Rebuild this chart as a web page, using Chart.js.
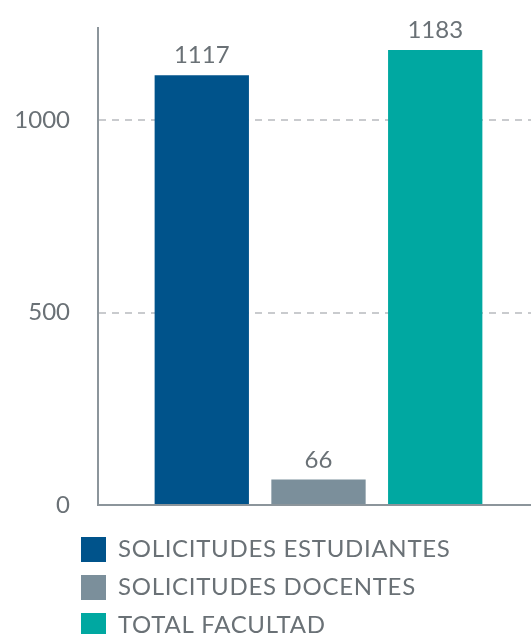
<!DOCTYPE html>
<html>
<head>
<meta charset="utf-8">
<script src="https://cdn.jsdelivr.net/npm/chart.js@4/dist/chart.umd.min.js"></script>
<style>
  html, body { margin: 0; padding: 0; background: #ffffff; overflow: hidden; }
  #wrap { width: 539px; height: 634px; position: relative; }
</style>
</head>
<body>
<div id="wrap"><canvas id="c"></canvas></div>
<script>
const categories = [''];
const seriesNames = ['SOLICITUDES ESTUDIANTES', 'SOLICITUDES DOCENTES', 'TOTAL FACULTAD'];
const estudiantes = [1117];
const docentes = [66];
const totalFacultad = [1183];
const yTicks = [0, 500, 1000];
const colors = ['#00538b', '#7b8f9b', '#00a8a1'];

const textColor = '#6a7176';
const axisColor = '#8c959b';
const gridColor = '#c9cbce';
const FONT = 'Lato, "Open Sans", sans-serif';
const LEGEND_SPACING = '0.7px';

const valueLabels = {
  id: 'valueLabels',
  afterInit(chart) {
    const lg = chart.legend;
    if (!lg) return;
    const wrap = (name) => {
      const orig = lg[name];
      lg[name] = function () {
        const ctx = chart.ctx;
        const prev = ctx.letterSpacing;
        ctx.letterSpacing = LEGEND_SPACING;
        try { return orig.apply(this, arguments); }
        finally { ctx.letterSpacing = prev || '0px'; }
      };
    };
    wrap('fit');
    wrap('draw');
  },
  afterLayout(chart) {
    if (chart.legend) chart.legend.left = 68;
  },
  afterDatasetsDraw(chart) {
    const ctx = chart.ctx;
    ctx.save();
    ctx.font = '24px ' + FONT;
    ctx.fillStyle = textColor;
    ctx.textAlign = 'center';
    ctx.textBaseline = 'alphabetic';
    chart.data.datasets.forEach((ds, i) => {
      const meta = chart.getDatasetMeta(i);
      meta.data.forEach((bar, j) => {
        ctx.fillText(String(ds.data[j]), bar.x, bar.y - 12);
      });
    });
    ctx.restore();
  }
};

const seriesData = [estudiantes, docentes, totalFacultad];

new Chart(document.getElementById('c'), {
  type: 'bar',
  data: {
    labels: categories,
    datasets: seriesNames.map((name, i) => ({
      label: name,
      data: seriesData[i],
      backgroundColor: colors[i],
      borderWidth: 0,
      categoryPercentage: 0.794,
      barPercentage: 0.808
    }))
  },
  options: {
    responsive: true,
    maintainAspectRatio: false,
    animation: false,
    layout: { padding: { top: 28, left: 13, right: 0, bottom: -14 } },
    plugins: {
      tooltip: { enabled: false },
      legend: {
        display: true,
        position: 'bottom',
        align: 'start',
        labels: {
          boxWidth: 25,
          boxHeight: 25,
          padding: 13,
          color: textColor,
          font: { family: FONT, size: 24 }
        }
      }
    },
    scales: {
      x: {
        ticks: { display: false },
        grid: { display: true, color: 'rgba(0,0,0,0)', drawTicks: false },
        border: { display: true, color: axisColor, width: 2 },
        afterFit(s) { s.height = 19; }
      },
      y: {
        min: 0,
        max: 1240,
        ticks: {
          stepSize: 500,
          padding: 28,
          color: textColor,
          font: { family: FONT, size: 24 },
          callback: (v) => String(v)
        },
        afterBuildTicks(s) {
          s.ticks = yTicks.map(v => ({ value: v }));
        },
        afterFit(s) { s.width = 85; s.paddingTop = 0; s.paddingBottom = 0; },
        grid: {
          drawTicks: false,
          lineWidth: 2,
          color: (c) => (c.tick && c.tick.value === 0 ? 'rgba(0,0,0,0)' : gridColor)
        },
        border: { display: true, color: axisColor, width: 2, dash: [7, 6] }
      }
    }
  },
  plugins: [valueLabels]
});
</script>
</body>
</html>
